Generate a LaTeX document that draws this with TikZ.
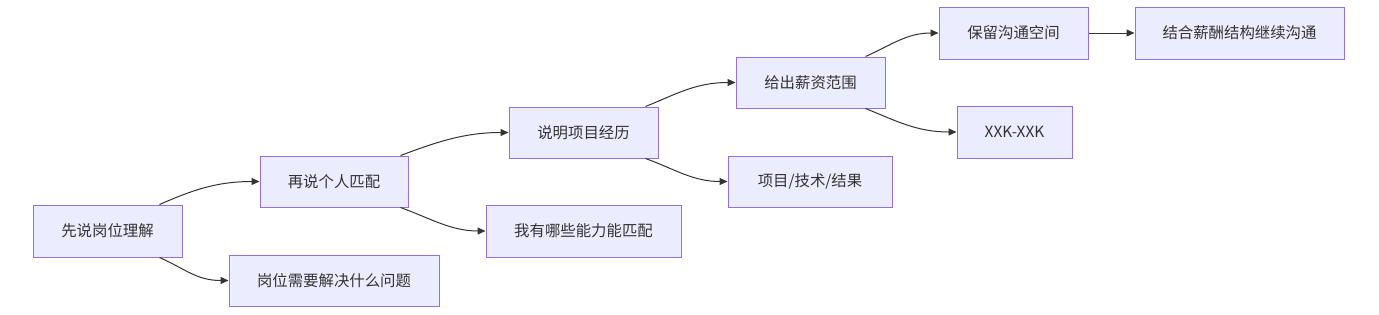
\documentclass[tikz,border=0pt]{standalone}
\usepackage{fontspec}
\setmainfont{Noto Sans CJK SC}
\usetikzlibrary{arrows.meta}
\definecolor{boxfill}{HTML}{ECECFF}
\definecolor{boxdraw}{HTML}{9370DB}
\definecolor{linec}{HTML}{333333}
\definecolor{textc}{HTML}{333333}
\tikzset{
  box/.style={draw=boxdraw, fill=boxfill, line width=1pt, text=textc, inner sep=0pt, font=\fontsize{15.4}{18}\selectfont, anchor=center},
  edge/.style={draw=linec, line width=1pt, -{Triangle[length=8pt,width=7pt]}}
}
\begin{document}
\begin{tikzpicture}[x=1pt,y=-1pt]
\useasboundingbox (0,0) rectangle (1379,314);
\node[box, minimum width=149pt, minimum height=52pt] (b1) at (107.5,231) {先说岗位理解};
\node[box, minimum width=210pt, minimum height=51pt] (b2) at (334,280.5) {岗位需要解决什么问题};
\node[box, minimum width=148pt, minimum height=51pt] (b3) at (334,181.5) {再说个人匹配};
\node[box, minimum width=195pt, minimum height=52pt] (b4) at (583.5,231) {我有哪些能力能匹配};
\node[box, minimum width=149pt, minimum height=51pt] (b5) at (583.5,132.5) {说明项目经历};
\node[box, minimum width=149pt, minimum height=51pt] (b6) at (810.5,82.5) {给出薪资范围};
\node[box, minimum width=164pt, minimum height=51pt] (b7) at (810,181.5) {项目/技术/结果};
\node[box, minimum width=115pt, minimum height=52pt] (b8) at (1014.5,132) {XXK-XXK};
\node[box, minimum width=149pt, minimum height=52pt] (b9) at (1013.5,33) {保留沟通空间};
\node[box, minimum width=209pt, minimum height=52pt] (b10) at (1239.5,33) {结合薪酬结构继续沟通};
\coordinate (s13) at ([xshift=-23pt]b1.north east);
\coordinate (s12) at ([xshift=-23pt]b1.south east);
\coordinate (s35) at ([xshift=-8pt]b3.north east);
\coordinate (s34) at ([xshift=-8pt]b3.south east);
\coordinate (s56) at ([xshift=-13pt]b5.north east);
\coordinate (s57) at ([xshift=-13pt]b5.south east);
\coordinate (s69) at ([xshift=-20pt]b6.north east);
\coordinate (s68) at ([xshift=-20pt]b6.south east);
\draw[edge] (s13) .. controls +(30,-13) and +(-45,0) .. (b3.west);
\draw[edge] (s12) .. controls +(25,11) and +(-32,0) .. (b2.west);
\draw[edge] (s35) .. controls +(35,-13) and +(-45,0) .. (b5.west);
\draw[edge] (s34) .. controls +(28,10) and +(-35,0) .. (b4.west);
\draw[edge] (s56) .. controls +(30,-12) and +(-40,0) .. (b6.west);
\draw[edge] (s57) .. controls +(28,10) and +(-35,0) .. (b7.west);
\draw[edge] (s69) .. controls +(25,-11) and +(-32,0) .. (b9.west);
\draw[edge] (s68) .. controls +(30,12) and +(-40,0) .. (b8.west);
\draw[edge] (b9.east) -- (b10.west);
\end{tikzpicture}
\end{document}
